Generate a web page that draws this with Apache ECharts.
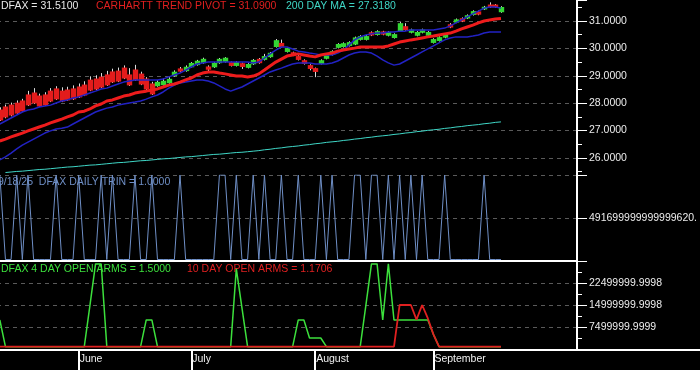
<!DOCTYPE html>
<html><head><meta charset="utf-8">
<script src="https://cdn.jsdelivr.net/npm/echarts@6/dist/echarts.min.js"></script>
<style>html,body{margin:0;padding:0;background:#000;}#c{width:700px;height:370px;}</style>
</head><body><div id="c"></div>
<script>
const dates = ['5/12','5/13','5/14','5/15','5/16','5/19','5/20','5/21','5/22','5/23','5/27','5/28','5/29','5/30',
'6/2','6/3','6/4','6/5','6/6','6/9','6/10','6/11','6/12','6/13','6/16','6/17','6/18','6/20','6/23','6/24','6/25','6/26','6/27','6/30',
'7/1','7/2','7/3','7/7','7/8','7/9','7/10','7/11','7/14','7/15','7/16','7/17','7/18','7/21','7/22','7/23','7/24','7/25','7/28','7/29','7/30','7/31',
'8/1','8/4','8/5','8/6','8/7','8/8','8/11','8/12','8/13','8/14','8/15','8/18','8/19','8/20','8/21','8/22','8/25','8/26','8/27','8/28','8/29',
'9/2','9/3','9/4','9/5','9/8','9/9','9/10','9/11','9/12','9/15','9/16','9/17','9/18',
'9/19','9/22','9/23','9/24','9/25','9/26','9/29','9/30','10/1','10/2','10/3','10/6','10/7'];

const openP = [27.77,27.88,27.95,28.02,28.10,28.32,28.39,28.28,28.32,28.46,
28.54,28.46,28.50,28.54,28.61,28.68,28.86,28.90,28.97,29.05,
29.16,29.19,29.30,29.05,29.23,29.08,28.90,28.72,28.62,28.66,
28.73,28.99,29.27,29.17,29.31,29.39,29.46,29.34,29.31,29.46,
29.50,29.50,29.36,29.46,29.29,29.42,29.62,29.58,29.68,30.05,
30.20,29.87,29.86,29.72,29.57,29.39,29.28,29.43,29.62,29.76,
30.02,30.05,30.09,30.14,30.31,30.31,30.59,30.49,30.62,30.46,
30.38,30.62,30.81,30.57,30.46,30.57,30.46,30.20,30.27,30.39,
30.88,30.94,31.10,31.09,31.22,31.35,31.42,31.60,31.60,31.32];
const closeP = [27.37,27.48,27.55,27.62,27.70,27.92,27.99,27.88,27.92,28.06,
28.14,28.06,28.10,28.14,28.21,28.28,28.46,28.50,28.57,28.65,
28.76,28.79,28.90,28.65,28.83,28.68,28.50,28.32,28.78,28.82,
28.89,29.15,29.15,29.33,29.47,29.55,29.62,29.22,29.47,29.62,
29.66,29.36,29.50,29.32,29.43,29.58,29.46,29.72,29.84,30.30,
30.04,30.01,29.74,29.58,29.43,29.25,29.14,29.57,29.76,29.90,
30.16,30.19,30.23,30.40,30.45,30.45,30.47,30.63,30.50,30.60,
30.52,30.92,30.67,30.69,30.60,30.69,30.60,30.34,30.41,30.51,
30.76,31.06,30.98,31.21,31.36,31.23,31.52,31.50,31.50,31.51];
const highP = [27.85,27.95,28.02,28.10,28.16,28.45,28.55,28.35,28.40,28.55,
28.62,28.58,28.60,28.65,28.72,28.80,28.98,29.02,29.10,29.18,
29.26,29.30,29.38,29.28,29.40,29.15,28.95,28.78,28.84,28.90,
28.95,29.20,29.32,29.38,29.50,29.58,29.66,29.38,29.50,29.65,
29.68,29.52,29.53,29.48,29.46,29.61,29.65,29.80,29.87,30.34,
30.32,30.04,29.88,29.75,29.60,29.42,29.30,29.60,29.79,29.93,
30.19,30.22,30.26,30.43,30.48,30.50,30.62,30.66,30.64,30.63,
30.55,30.96,30.92,30.72,30.63,30.72,30.63,30.37,30.44,30.54,
30.92,31.09,31.13,31.24,31.39,31.38,31.55,31.68,31.62,31.54];
const lowP = [27.35,27.45,27.52,27.60,27.68,27.90,27.97,27.86,27.90,28.04,
28.12,28.04,28.08,28.12,28.19,28.26,28.44,28.48,28.55,28.63,
28.74,28.77,28.88,28.63,28.81,28.66,28.48,28.30,28.60,28.64,
28.71,28.97,29.12,29.15,29.29,29.37,29.44,29.12,29.29,29.44,
29.48,29.34,29.34,29.25,29.27,29.40,29.44,29.56,29.66,30.03,
30.02,29.85,29.72,29.56,29.41,29.20,28.95,29.41,29.60,29.74,
30.00,30.03,30.07,30.12,30.29,30.29,30.45,30.47,30.48,30.44,
30.36,30.60,30.65,30.55,30.44,30.55,30.44,30.18,30.25,30.37,
30.74,30.92,30.96,31.07,31.20,31.21,31.40,31.48,31.48,31.30];

const trendPivot = [26.62,26.69,26.77,26.84,26.91,26.99,27.06,27.13,27.20,27.28,
27.35,27.42,27.50,27.57,27.68,27.71,27.79,27.90,27.97,28.08,
28.12,28.19,28.26,28.30,28.37,28.41,28.44,28.48,28.52,28.59,
28.66,28.70,28.77,28.85,28.92,29.03,29.10,29.14,29.14,29.10,
29.07,29.03,28.99,28.99,28.96,28.99,29.07,29.21,29.36,29.50,
29.61,29.72,29.76,29.80,29.76,29.72,29.69,29.76,29.80,29.83,
29.90,29.94,29.98,30.01,30.05,30.05,30.05,30.05,30.05,30.09,
30.16,30.23,30.27,30.31,30.34,30.38,30.42,30.45,30.49,30.53,
30.56,30.63,30.71,30.78,30.85,30.93,31.00,31.04,31.07,31.09];
const upperBand = [27.24,27.35,27.46,27.57,27.68,27.75,27.79,27.86,27.90,27.93,
28.01,28.08,28.12,28.19,28.23,28.30,28.37,28.44,28.52,28.55,
28.63,28.70,28.77,28.81,28.85,28.85,28.85,28.85,28.85,28.88,
28.96,29.03,29.10,29.21,29.32,29.43,29.47,29.50,29.50,29.50,
29.50,29.50,29.50,29.50,29.50,29.47,29.50,29.65,29.80,29.94,
30.05,30.05,29.98,29.90,29.87,29.83,29.80,29.76,29.76,29.76,
29.83,29.94,30.12,30.31,30.42,30.49,30.53,30.56,30.56,30.60,
30.60,30.63,30.63,30.67,30.67,30.67,30.67,30.67,30.71,30.74,
30.82,30.93,31.04,31.15,31.26,31.36,31.47,31.51,31.51,31.47];
const lowerBand = [25.93,26.04,26.18,26.33,26.47,26.58,26.69,26.80,26.91,26.99,
27.06,27.09,27.13,27.24,27.35,27.46,27.57,27.68,27.75,27.82,
27.86,27.93,27.97,28.01,28.04,28.08,28.15,28.23,28.30,28.41,
28.55,28.66,28.74,28.77,28.81,28.85,28.85,28.81,28.74,28.63,
28.52,28.44,28.52,28.59,28.70,28.81,28.92,29.03,29.14,29.21,
29.28,29.36,29.43,29.47,29.47,29.47,29.43,29.43,29.43,29.47,
29.54,29.65,29.76,29.83,29.87,29.87,29.83,29.72,29.58,29.47,
29.39,29.43,29.54,29.65,29.76,29.87,29.98,30.09,30.20,30.31,
30.38,30.42,30.42,30.42,30.45,30.49,30.56,30.60,30.60,30.60];
const ma200 = [null,25.47,25.49,25.51,25.52,25.54,25.56,25.58,25.59,25.61,
25.63,25.65,25.67,25.68,25.70,25.72,25.74,25.75,25.77,25.79,
25.81,25.83,25.84,25.86,25.88,25.90,25.91,25.93,25.95,25.97,
25.98,26.00,26.02,26.04,26.05,26.07,26.09,26.11,26.13,26.14,
26.16,26.18,26.20,26.21,26.23,26.25,26.27,26.30,26.32,26.35,
26.37,26.40,26.42,26.44,26.47,26.49,26.52,26.54,26.57,26.59,
26.61,26.64,26.66,26.69,26.71,26.74,26.76,26.79,26.81,26.83,
26.86,26.88,26.91,26.93,26.96,26.98,27.01,27.03,27.05,27.08,
27.10,27.13,27.15,27.18,27.20,27.22,27.25,27.27,27.30,27.318];

const dailyTrin = [9.834e15,1.7e14,1.7e14,9.834e15,1.7e14,9.834e15,1.7e14,1.7e14,1.7e14,1.7e14,
9.834e15,1.7e14,1.7e14,1.7e14,9.834e15,1.7e14,1.7e14,1.7e14,9.834e15,1.7e14,
9.834e15,1.7e14,1.7e14,1.7e14,9.834e15,1.7e14,1.7e14,9.834e15,1.7e14,1.7e14,
1.7e14,1.7e14,9.834e15,1.7e14,1.7e14,1.7e14,1.7e14,1.7e14,1.7e14,9.834e15,
9.834e15,1.7e14,9.834e15,1.7e14,1.7e14,9.834e15,1.7e14,9.834e15,1.7e14,1.7e14,
9.834e15,1.7e14,1.7e14,9.834e15,1.7e14,1.7e14,1.7e14,9.834e15,1.7e14,9.834e15,
1.7e14,1.7e14,1.7e14,9.834e15,9.834e15,1.7e14,9.834e15,9.834e15,1.7e14,9.834e15,
1.7e14,9.834e15,1.7e14,9.834e15,1.7e14,9.834e15,1.7e14,1.7e14,1.7e14,9.834e15,
1.7e14,1.7e14,1.7e14,1.7e14,1.7e14,1.7e14,9.834e15,1.7e14,1.7e14,1.7e14];

const openArms4 = [9900000,800000,800000,800000,800000,800000,800000,800000,800000,800000,
800000,800000,800000,800000,800000,800000,14800000,29000000,29000000,800000,
800000,800000,800000,800000,800000,800000,9900000,9900000,800000,800000,
800000,800000,800000,800000,800000,800000,800000,800000,800000,800000,
800000,800000,27300000,14000000,800000,800000,800000,800000,800000,800000,
800000,800000,800000,9900000,9900000,3750000,3750000,3750000,800000,800000,
800000,800000,800000,800000,800000,14800000,29000000,29000000,9900000,29000000,
9900000,9900000,9900000,9900000,9900000,9900000,9900000,5000000,800000,800000,
800000,800000,800000,800000,800000,800000,800000,800000,800000,800000];
const openArms10 = [800000,800000,800000,800000,800000,800000,800000,800000,800000,800000,
800000,800000,800000,800000,800000,800000,800000,800000,800000,800000,
800000,800000,800000,800000,800000,800000,800000,800000,800000,800000,
800000,800000,800000,800000,800000,800000,800000,800000,800000,800000,
800000,800000,800000,800000,800000,800000,800000,800000,800000,800000,
800000,800000,800000,800000,800000,800000,800000,800000,800000,800000,
800000,800000,800000,800000,800000,800000,800000,800000,800000,800000,
800000,15000000,15000000,15000000,10000000,15000000,10500000,5000000,800000,800000,
800000,800000,800000,800000,800000,800000,800000,800000,800000,800000];

const trinTickLabels = ['', '491699999999999620.', ''];
const armsTickLabels = ['', '7499999.9999', '14999999.9998', '22499999.9998', ''];
const monthNames = {'6':'June','7':'July','8':'August','9':'September'};
const titleTrin = '9/18/25  DFAX DAILY TRIN = 1.0000';
const titleArms4 = 'DFAX 4 DAY OPEN ARMS = 1.5000';
const titleArms10 = '10 DAY OPEN ARMS = 1.1706';

const FONT = '"Liberation Sans", Arial, sans-serif';
const RED = '#e31c1c', GREEN = '#33d633', WICK = '#dcdcdc';
const isMonthStart = dates.map((d, i) => i > 0 && d.split('/')[0] !== dates[i - 1].split('/')[0] && !!monthNames[d.split('/')[0]]);
const candleData = openP.map((o, i) => [i, o, closeP[i], lowP[i], highP[i]]);
const last = a => a[a.length - 1];

const chart = echarts.init(document.getElementById('c'), null, {renderer: 'canvas'});
const gl = -3, gr = 123;
const dashed = {show: true, lineStyle: {color: '#5a5a5a', type: [4, 4], width: 1}};
const labelStyle = {color: '#ececec', fontSize: 10.5, fontFamily: FONT, margin: 12};
const gridBase = {left: gl, right: gr, containLabel: false, outerBoundsMode: 'none'};

chart.setOption({
  backgroundColor: '#000',
  animation: false,
  grid: [
    Object.assign({}, gridBase, {top: 0, height: 175}),
    Object.assign({}, gridBase, {top: 175, height: 86}),
    Object.assign({}, gridBase, {top: 261, height: 88})
  ],
  xAxis: [
    {type: 'category', gridIndex: 0, data: dates, boundaryGap: true, show: false},
    {type: 'category', gridIndex: 1, data: dates, boundaryGap: true,
      axisLine: {show: true, lineStyle: {color: '#fff', width: 2}}, axisTick: {show: false}, axisLabel: {show: false}, splitLine: {show: false}},
    {type: 'category', gridIndex: 2, data: dates, boundaryGap: true,
      axisLine: {show: false},
      axisTick: {show: true, alignWithLabel: true, length: 21, interval: (i) => isMonthStart[i], lineStyle: {color: '#fff', width: 2}},
      axisLabel: {show: true, interval: (i) => isMonthStart[i], align: 'left', padding: [0, 0, 0, 1], margin: 5,
        color: '#f0f0f0', fontSize: 10.5, fontFamily: FONT,
        formatter: (v) => monthNames[v.split('/')[0]] || ''},
      splitLine: {show: false}}
  ],
  yAxis: [
    {type: 'value', gridIndex: 0, position: 'right', min: 25.38, max: 31.766, splitNumber: 6,
      axisLine: {show: true, onZero: false, lineStyle: {color: '#fff', width: 2}},
      axisTick: {show: true, length: 10, lineStyle: {color: '#fff'}},
      minorTick: {show: true, splitNumber: 2, length: 5, lineStyle: {color: '#fff'}},
      axisLabel: Object.assign({}, labelStyle, {formatter: (v) => Math.abs(v - Math.round(v)) < 1e-6 ? v.toFixed(4) : ''}),
      splitLine: Object.assign({}, dashed, {showMaxLine: false})},
    {type: 'value', gridIndex: 1, position: 'right', min: 0, max: 9.834e15, interval: 4.917e15,
      axisLine: {show: true, onZero: false, lineStyle: {color: '#fff', width: 2}},
      axisTick: {show: true, length: 10, lineStyle: {color: '#fff'}},
      axisLabel: Object.assign({}, labelStyle, {formatter: (v, idx) => trinTickLabels[idx] || ''}),
      splitLine: dashed},
    {type: 'value', gridIndex: 2, position: 'right', min: 0, max: 30000000, interval: 7500000,
      axisLine: {show: true, onZero: false, lineStyle: {color: '#fff', width: 2}},
      axisTick: {show: true, length: 10, lineStyle: {color: '#fff'}},
      minorTick: {show: true, splitNumber: 2, length: 5, lineStyle: {color: '#fff'}},
      axisLabel: Object.assign({}, labelStyle, {formatter: (v, idx) => armsTickLabels[idx] || ''}),
      splitLine: dashed}
  ],
  series: [
    {type: 'line', xAxisIndex: 0, yAxisIndex: 0, data: ma200, symbol: 'none', lineStyle: {color: '#3fd6c6', width: 1}},
    {type: 'line', xAxisIndex: 0, yAxisIndex: 0, data: upperBand, symbol: 'none', lineStyle: {color: '#2222c4', width: 1.5}},
    {type: 'line', xAxisIndex: 0, yAxisIndex: 0, data: lowerBand, symbol: 'none', lineStyle: {color: '#2222c4', width: 1.5}},
    {type: 'line', xAxisIndex: 0, yAxisIndex: 0, data: trendPivot, symbol: 'none', lineStyle: {color: '#ee1c1c', width: 3}},
    {type: 'custom', xAxisIndex: 0, yAxisIndex: 0, data: candleData, clip: true,
      encode: {x: 0, y: [1, 2, 3, 4]},
      renderItem: (params, api) => {
        const i = api.value(0), o = api.value(1), c = api.value(2), l = api.value(3), h = api.value(4);
        const pO = api.coord([i, o]), pC = api.coord([i, c]), pL = api.coord([i, l]), pH = api.coord([i, h]);
        const w = 5.4;
        const x = Math.round(pO[0]) + 0.5;
        const top = Math.min(pO[1], pC[1]), bot = Math.max(pO[1], pC[1]);
        return {type: 'group', children: [
          {type: 'line', shape: {x1: x, y1: pH[1], x2: x, y2: pL[1]}, style: {stroke: WICK, lineWidth: 1}},
          {type: 'rect', shape: {x: x - w / 2, y: top, width: w, height: Math.max(1, bot - top)},
            style: {fill: c >= o ? GREEN : RED}}
        ]};
      }},
    {type: 'line', xAxisIndex: 1, yAxisIndex: 1, data: dailyTrin, symbol: 'none', lineStyle: {color: '#6f8fc6', width: 1}},
    {type: 'line', xAxisIndex: 2, yAxisIndex: 2, data: openArms4, symbol: 'none', lineStyle: {color: '#3ce03c', width: 1.5}},
    {type: 'line', xAxisIndex: 2, yAxisIndex: 2, data: openArms10, symbol: 'none', lineStyle: {color: '#e02020', width: 1.8}}
  ],
  graphic: [
    {type: 'line', shape: {x1: 0, y1: 350, x2: 700, y2: 350}, style: {stroke: '#fff', lineWidth: 2}, z: 100},
    {type: 'text', left: 1, top: 1, style: {text: 'DFAX = ' + last(closeP).toFixed(4), fill: '#e8e8e8', fontSize: 10.5, fontFamily: FONT}},
    {type: 'text', left: 96, top: 1, style: {text: 'CARHARTT TREND PIVOT = ' + last(trendPivot).toFixed(4), fill: '#e21f1f', fontSize: 10.5, fontFamily: FONT}},
    {type: 'text', left: 286, top: 1, style: {text: '200 DAY MA = ' + last(ma200).toFixed(4), fill: '#3fd6c6', fontSize: 10.5, fontFamily: FONT}},
    {type: 'text', left: -2, top: 177, style: {text: titleTrin, fill: '#6f8fc6', fontSize: 10.5, fontFamily: FONT}},
    {type: 'text', left: 1, top: 264, style: {text: titleArms4, fill: '#3ce03c', fontSize: 10.5, fontFamily: FONT}},
    {type: 'text', left: 187, top: 264, style: {text: titleArms10, fill: '#e02020', fontSize: 10.5, fontFamily: FONT}}
  ]
});
</script></body></html>
